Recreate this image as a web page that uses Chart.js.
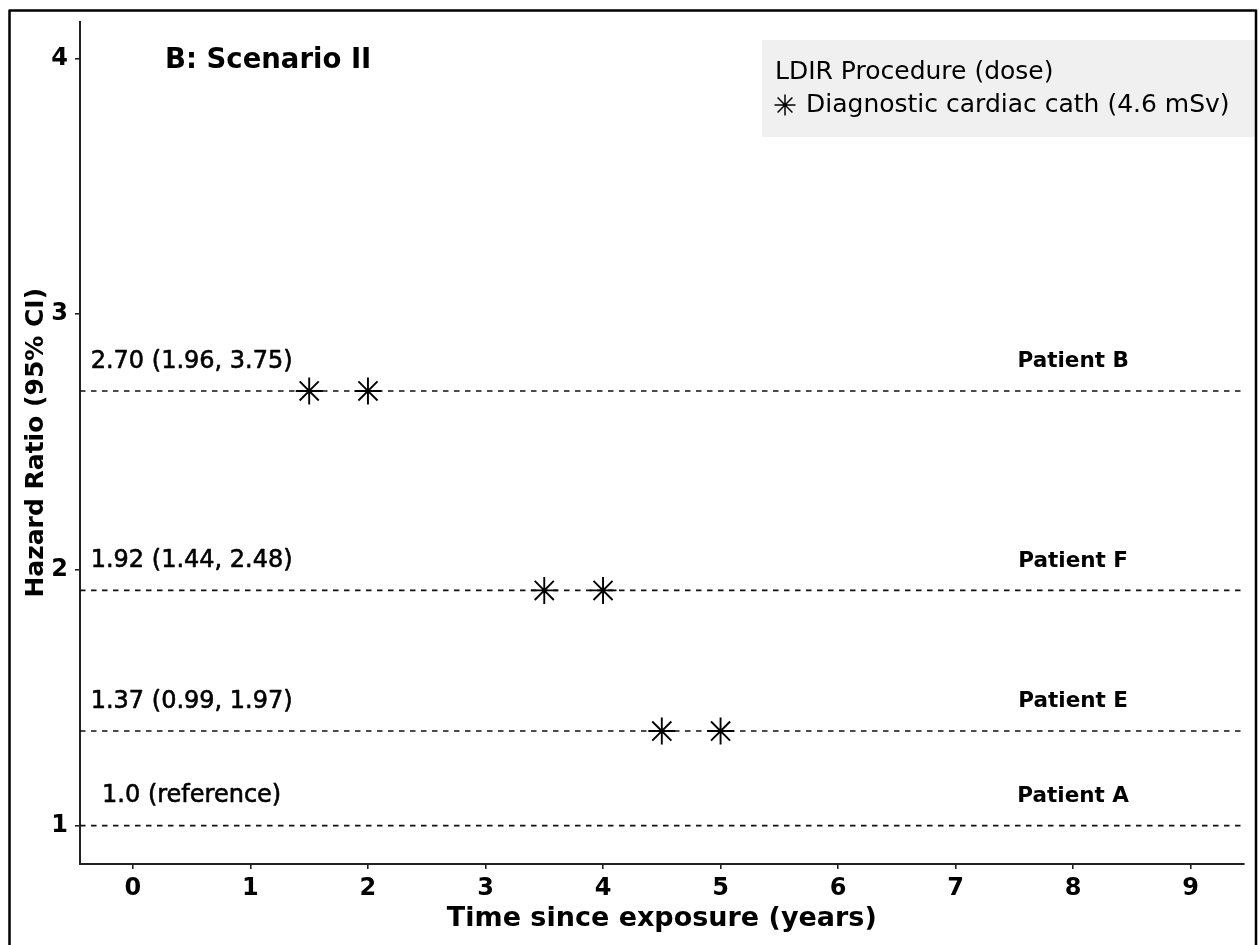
<!DOCTYPE html>
<html>
<head>
<meta charset="utf-8">
<title>B: Scenario II</title>
<script src="https://cdn.jsdelivr.net/npm/chart.js@4/dist/chart.umd.min.js"></script>
<style>
  html, body { margin: 0; padding: 0; background: #fff; }
  canvas { display: block; }
</style>
</head>
<body>
<canvas id="hr" width="1259" height="945"></canvas>
<script>
// Tick values on each axis
const timeTicks = [0, 1, 2, 3, 4, 5, 6, 7, 8, 9];
const hrTicks = [1, 2, 3, 4];

// One row per patient: hazard ratio, its printed estimate, and procedure times (years)
const patients = ['Patient A', 'Patient E', 'Patient F', 'Patient B'];
const hazardRatios = [1.0, 1.37, 1.92, 2.70];
const hrLabels = ['1.0 (reference)', '1.37 (0.99, 1.97)', '1.92 (1.44, 2.48)', '2.70 (1.96, 3.75)'];
const procedureTimes = [[], [4.5, 5], [3.5, 4], [1.5, 2]];

const legendTitle = 'LDIR Procedure (dose)';
const legendItem = 'Diagnostic cardiac cath (4.6 mSv)';
const panelTitle = 'B: Scenario II';

const FONT = '"DejaVu Sans", "Liberation Sans", Arial, sans-serif';
const X_MIN = -0.45, X_MAX = 9.45;
const Y_MIN = 0.85, Y_MAX = 4.145;
const LABEL_LIFT = 0.115;

// Dashed horizontal reference line for each patient
const lineSets = hazardRatios.map((hr, i) => ({
  type: 'line',
  label: patients[i],
  data: [{ x: X_MIN, y: hr }, { x: X_MAX, y: hr }],
  borderColor: '#111',
  borderWidth: 1.6,
  borderDash: [5.5, 5.5],
  pointRadius: 0,
  fill: false,
  order: 2
}));

// Procedure markers
const procPoints = [];
procedureTimes.forEach((times, i) => {
  times.forEach(t => procPoints.push({ x: t, y: hazardRatios[i] }));
});
const starSet = {
  type: 'scatter',
  label: legendItem,
  data: procPoints,
  pointStyle: 'star',
  pointRadius: 13.5,
  pointBorderWidth: 1.9,
  borderColor: '#000',
  backgroundColor: '#000',
  order: 1
};

function drawStar(ctx, x, y, r, lw) {
  if (Chart.helpers && Chart.helpers.drawPoint) {
    Chart.helpers.drawPoint(ctx, { pointStyle: 'star', radius: r, borderWidth: lw }, x, y);
    return;
  }
  ctx.beginPath();
  for (let k = 0; k < 4; k++) {
    const a = k * Math.PI / 4;
    ctx.moveTo(x - Math.cos(a) * r, y - Math.sin(a) * r);
    ctx.lineTo(x + Math.cos(a) * r, y + Math.sin(a) * r);
  }
  ctx.stroke();
}

function heavyText(ctx, text, x, y, w) {
  ctx.fillText(text, x, y);
  ctx.lineWidth = w;
  ctx.strokeText(text, x, y);
}

const decorPlugin = {
  id: 'decor',
  beforeDraw(chart) {
    const ctx = chart.ctx;
    ctx.save();
    ctx.fillStyle = '#fff';
    ctx.fillRect(0, 0, chart.width, chart.height);
    ctx.restore();
  },
  afterDatasetsDraw(chart) {
    const { ctx, scales: { x, y } } = chart;
    ctx.save();
    ctx.fillStyle = '#000';
    ctx.strokeStyle = '#000';
    ctx.lineJoin = 'round';
    ctx.textBaseline = 'middle';
    hazardRatios.forEach((hr, i) => {
      const py = y.getPixelForValue(hr + LABEL_LIFT);
      ctx.font = '24px ' + FONT;
      ctx.textAlign = 'center';
      heavyText(ctx, hrLabels[i], x.getPixelForValue(0.5), py, 0.6);
      ctx.font = 'bold 21.5px ' + FONT;
      ctx.fillText(patients[i], x.getPixelForValue(8), py);
    });

    // panel title
    ctx.font = 'bold 27.5px ' + FONT;
    ctx.textAlign = 'left';
    ctx.fillText(panelTitle, 165, 61);

    // legend box
    ctx.fillStyle = '#f0f0f0';
    ctx.fillRect(762, 40, 494, 97);
    ctx.fillStyle = '#000';
    ctx.font = '25px ' + FONT;
    ctx.fillText(legendTitle, 775, 72);
    ctx.fillText(legendItem, 806, 105);
    ctx.strokeStyle = '#000';
    ctx.lineWidth = 1.5;
    drawStar(ctx, 785, 105, 10.5, 1.5);

    // outer frame
    ctx.strokeStyle = '#000';
    ctx.lineWidth = 2.5;
    ctx.strokeRect(9.5, 10.5, 1246.5, 950);
    ctx.restore();
  }
};

const axisGrid = { drawOnChartArea: false, drawTicks: true, tickLength: 5, color: '#222', lineWidth: 1.6 };
const axisBorder = { display: true, color: '#222', width: 2 };
const tickFont = { family: FONT, size: 24, weight: 'bold' };

new Chart(document.getElementById('hr'), {
  data: { datasets: [...lineSets, starSet] },
  options: {
    responsive: false,
    animation: false,
    events: [],
    layout: { padding: { left: 0, right: 12, top: 21.5, bottom: 0 } },
    plugins: { legend: { display: false }, tooltip: { enabled: false } },
    scales: {
      x: {
        type: 'linear',
        min: X_MIN,
        max: X_MAX,
        afterBuildTicks: s => { s.ticks = timeTicks.map(v => ({ value: v })); },
        afterFit: s => { s.height = 81; },
        grid: axisGrid,
        border: axisBorder,
        ticks: { color: '#000', font: tickFont, padding: 5.5, maxRotation: 0, autoSkip: false },
        title: {
          display: true,
          text: 'Time since exposure (years)',
          color: '#000',
          font: { family: FONT, size: 27, weight: 'bold' },
          padding: { top: 0, bottom: 10 }
        }
      },
      y: {
        type: 'linear',
        min: Y_MIN,
        max: Y_MAX,
        afterBuildTicks: s => { s.ticks = hrTicks.map(v => ({ value: v })); },
        afterFit: s => { s.width = 80; },
        grid: axisGrid,
        border: axisBorder,
        ticks: { color: '#000', font: tickFont, padding: 7, autoSkip: false },
        title: {
          display: true,
          text: 'Hazard Ratio (95% CI)',
          color: '#000',
          font: { family: FONT, size: 25, weight: 'bold' },
          padding: { top: 21, bottom: 0 }
        }
      }
    }
  },
  plugins: [decorPlugin]
});
</script>
</body>
</html>
